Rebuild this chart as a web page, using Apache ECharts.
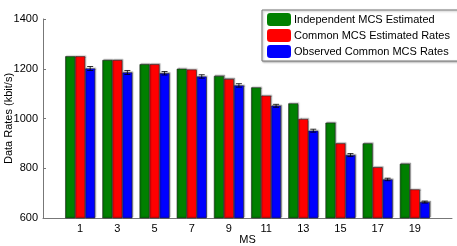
<!DOCTYPE html>
<html>
<head>
<meta charset="utf-8">
<script src="https://cdn.jsdelivr.net/npm/echarts@6/dist/echarts.min.js"></script>
<style>
html,body{margin:0;padding:0;background:#fff;}
#c{width:457px;height:246px;}
</style>
</head>
<body>
<div id="c"></div>
<script>
var msLabels = ['1','3','5','7','9','11','13','15','17','19'];
var independentEst = [1250, 1235, 1218, 1200, 1171, 1125, 1061, 983, 900, 818];
var commonEst      = [1250, 1235, 1218, 1197, 1159, 1092, 998, 900, 804, 715];
var observedCommon = [1201, 1185, 1182, 1169, 1133, 1051, 951, 853, 755, 664];
var observedErr    = [8, 8, 7, 7, 7, 6, 6, 6, 5, 4];
var seriesNames = ['Independent MCS Estimated', 'Common MCS Estimated Rates', 'Observed Common MCS Rates'];
var yTicks = [600, 800, 1000, 1200, 1400];

// full axis from -1 to 21 (MATLAB-like xlim), labels only at the MS values
var axisCats = [];
for (var v = -1; v <= 21; v++) axisCats.push(String(v));

function pairs(vals) {
  return msLabels.map(function (m, i) { return [m, vals[i]]; });
}
var errData = msLabels.map(function (m, i) {
  return [m, observedCommon[i] - observedErr[i], observedCommon[i] + observedErr[i]];
});

var font = 'Liberation Sans, Arial, sans-serif';
var chart = echarts.init(document.getElementById('c'), null, {renderer: 'canvas'});
var barStyle = function (c) {
  return {color: c, borderColor: '#222', borderWidth: 0.6, shadowColor: 'rgba(0,0,0,0.3)', shadowOffsetX: 1, shadowOffsetY: -1, shadowBlur: 1};
};
chart.setOption({
  animation: false,
  textStyle: {fontFamily: font},
  grid: {left: 43, right: 5, top: 19, bottom: 28, containLabel: false, outerBoundsMode: 'none'},
  legend: {
    orient: 'vertical',
    left: 262, top: 10,
    padding: [3, 11, 3, 5],
    itemWidth: 24, itemHeight: 13, itemGap: 3,
    itemStyle: {borderWidth: 0},
    textStyle: {fontSize: 11, color: '#000', fontFamily: font, padding: [0, 0, 0, -2]},
    borderColor: '#777', borderWidth: 1,
    backgroundColor: '#fff',
    shadowColor: 'rgba(0,0,0,0.3)', shadowBlur: 2, shadowOffsetX: 1, shadowOffsetY: 1,
    data: seriesNames
  },
  xAxis: {
    type: 'category',
    data: axisCats,
    boundaryGap: false,
    name: 'MS', nameLocation: 'middle', nameGap: 16, nameMoveOverlap: false,
    nameTextStyle: {fontSize: 11, color: '#000', fontFamily: font},
    axisLine: {lineStyle: {color: '#777', width: 1}},
    axisTick: {show: false},
    axisLabel: {
      interval: 0, fontSize: 11, color: '#000', margin: 5, fontFamily: font,
      formatter: function (s) { return msLabels.indexOf(s) >= 0 ? s : ''; }
    },
    splitLine: {show: false}
  },
  yAxis: {
    type: 'value',
    min: yTicks[0], max: yTicks[yTicks.length - 1], interval: 200,
    name: 'Data Rates (kbit/s)', nameLocation: 'middle', nameGap: 29, nameRotate: 90, nameMoveOverlap: false,
    nameTextStyle: {fontSize: 11, color: '#000', fontFamily: font},
    axisLine: {show: true, lineStyle: {color: '#777', width: 1}},
    axisTick: {show: true, inside: true, length: 3, lineStyle: {color: '#777'}},
    axisLabel: {fontSize: 11, color: '#000', margin: 5, fontFamily: font,
      formatter: function (v) { return String(v); }},
    splitLine: {show: false}
  },
  series: [
    {name: seriesNames[0], type: 'bar', data: pairs(independentEst), barWidth: 10, barGap: '0%', itemStyle: barStyle('#008000')},
    {name: seriesNames[1], type: 'bar', data: pairs(commonEst), barWidth: 10, barGap: '0%', itemStyle: barStyle('#ff0000')},
    {name: seriesNames[2], type: 'bar', data: pairs(observedCommon), barWidth: 10, barGap: '0%', itemStyle: barStyle('#0000ff')},
    {
      type: 'custom', name: 'err', z: 5,
      data: errData,
      renderItem: function (params, api) {
        var lo = api.coord([api.value(0), api.value(1)]);
        var hi = api.coord([api.value(0), api.value(2)]);
        var x = lo[0] + 10; var w = 3;
        var st = {stroke: '#000', lineWidth: 0.8};
        return {type: 'group', children: [
          {type: 'line', shape: {x1: x, y1: lo[1], x2: x, y2: hi[1]}, style: st},
          {type: 'line', shape: {x1: x - w, y1: lo[1], x2: x + w, y2: lo[1]}, style: st},
          {type: 'line', shape: {x1: x - w, y1: hi[1], x2: x + w, y2: hi[1]}, style: st}
        ]};
      }
    }
  ]
});
</script>
</body>
</html>
